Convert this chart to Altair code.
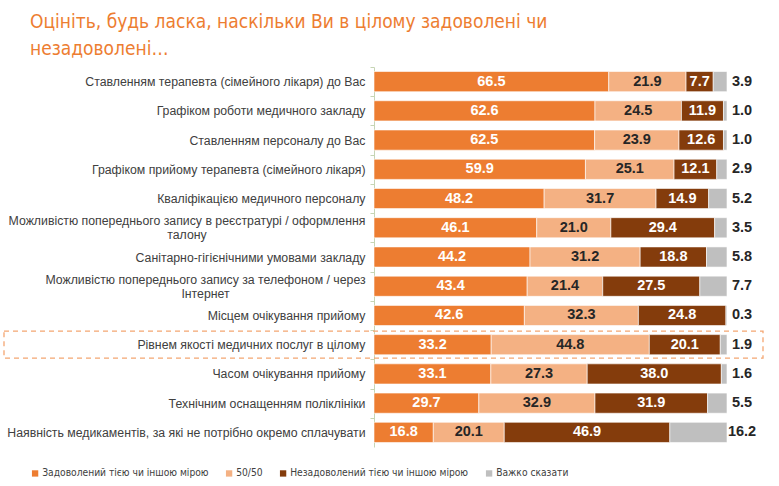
import altair as alt
import pandas as pd

# Survey items (top to bottom); "|" marks a line break in the axis label
categories = [
    "Ставленням терапевта (сімейного лікаря) до Вас",
    "Графіком роботи медичного закладу",
    "Ставленням персоналу до Вас",
    "Графіком прийому терапевта (сімейного лікаря)",
    "Кваліфікацією медичного персоналу",
    "Можливістю попереднього запису в реєстратурі / оформлення|талону",
    "Санітарно-гігієнічними умовами закладу",
    "Можливістю попереднього запису за телефоном / через|Інтернет",
    "Місцем очікування прийому",
    "Рівнем якості медичних послуг в цілому",
    "Часом очікування прийому",
    "Технічним оснащенням поліклініки",
    "Наявність медикаментів, за які не потрібно окремо сплачувати",
]

satisfied = [66.5, 62.6, 62.5, 59.9, 48.2, 46.1, 44.2, 43.4, 42.6, 33.2, 33.1, 29.7, 16.8]
neutral = [21.9, 24.5, 23.9, 25.1, 31.7, 21.0, 31.2, 21.4, 32.3, 44.8, 27.3, 32.9, 20.1]
dissatisfied = [7.7, 11.9, 12.6, 12.1, 14.9, 29.4, 18.8, 27.5, 24.8, 20.1, 38.0, 31.9, 46.9]
hard_to_say = [3.9, 1.0, 1.0, 2.9, 5.2, 3.5, 5.8, 7.7, 0.3, 1.9, 1.6, 5.5, 16.2]

series = ["Задоволений тією чи іншою мірою", "50/50",
          "Незадоволений тією чи іншою мірою", "Важко сказати"]
colors = ["#ED7D31", "#F4B183", "#843C0C", "#BFBFBF"]
label_colors = ["#FFFFFF", "#262626", "#FFFFFF", "#262626"]

highlighted = ["Рівнем якості медичних послуг в цілому"]

title_lines = ["Оцініть, будь ласка, наскільки Ви в цілому задоволені чи",
               "незадоволені…"]

NARROW = "Noto Sans Condensed, DejaVu Sans Condensed, Liberation Sans"

rows = []
for i, cat in enumerate(categories):
    vals = [satisfied[i], neutral[i], dissatisfied[i], hard_to_say[i]]
    start = 0.0
    for k, v in enumerate(vals):
        rows.append({
            "cat": cat, "series": series[k], "k": k, "value": v,
            "x0": start, "x1": start + v, "mid": start + v / 2,
            "txt": f"{v:.1f}", "tcolor": label_colors[k],
        })
        start += v
df = pd.DataFrame(rows)

hl_df = pd.DataFrame({"cat": [c for c in categories if c in highlighted]})

# Wrapped labels: centred block, its first line ending where the others do
wrapped = [c for c in categories if "|" in c]
multi_test = "indexof(datum.value, '|') >= 0"
label_align = {"condition": {"test": multi_test, "value": "center"}, "value": "right"}
label_offset = {"condition": {"test": multi_test, "value": 7.8}, "value": 14.6}
label_padding = {
    "condition": [
        {"test": f"datum.value == '{wrapped[0]}'", "value": 183.5},
        {"test": f"datum.value == '{wrapped[1]}'", "value": 165},
    ],
    "value": 5,
}

y_scale = alt.Scale(domain=categories, paddingInner=0.31, paddingOuter=0.155)
y_enc = alt.Y("cat:N", scale=y_scale, sort=categories, title=None,
              axis=alt.Axis(labelFont="Liberation Sans", labelFontSize=12.3,
                            labelColor="#404040", labelLimit=400,
                            labelExpr="split(datum.label, '|')",
                            labelAlign=label_align,
                            labelPadding=label_padding,
                            labelOffset=label_offset,
                            tickSize=4, tickOffset=-14.6,
                            domainColor="#C6D5B4", tickColor="#C6D5B4",
                            labelLineHeight=14))

bars = alt.Chart(df).mark_bar(stroke="white", strokeWidth=0.6).encode(
    y=y_enc,
    x=alt.X("x0:Q", scale=alt.Scale(domain=[0, 100], nice=False), axis=None),
    x2="x1:Q",
    color=alt.Color("series:N",
                    scale=alt.Scale(domain=series, range=colors),
                    legend=alt.Legend(title=None, orient="none",
                                      legendX=-344, legendY=401,
                                      direction="horizontal",
                                      symbolType="square", symbolSize=40,
                                      symbolStrokeWidth=0,
                                      labelFont=NARROW, labelLimit=300,
                                      labelFontSize=10.2, labelColor="#404040",
                                      labelOffset=2, columnPadding=15)),
    order=alt.Order("k:Q"),
)

inside = alt.Chart(df).transform_filter("datum.k < 3").mark_text(
    font="Liberation Sans", fontSize=14.5, fontWeight="bold"
).encode(
    y=alt.Y("cat:N", scale=y_scale, sort=categories),
    x=alt.X("mid:Q"),
    text="txt:N",
    color=alt.Color("tcolor:N", scale=None),
)

outside = alt.Chart(df).transform_filter("datum.k == 3").mark_text(
    font="Liberation Sans", fontSize=14.5, fontWeight="bold",
    color="#262626", dx=15
).encode(
    y=alt.Y("cat:N", scale=y_scale, sort=categories),
    x=alt.X("x1:Q"),
    text="txt:N",
)

box = alt.Chart(hl_df).mark_bar(
    size=27, fill="transparent", stroke="#F4A672",
    strokeWidth=1.3, strokeDash=[5, 4]
).encode(
    y=alt.Y("cat:N", scale=y_scale, sort=categories),
    x=alt.value(-370),
    x2=alt.value(389),
)

chart = alt.layer(bars, inside, outside, box).properties(
    width=353, height=380,
    autosize=alt.AutoSizeParams(type="none"),
    padding={"left": 374, "top": 67, "right": 52, "bottom": 39},
    title=alt.TitleParams(
        text=title_lines, anchor="start", frame="group",
        font=NARROW, fontSize=19, fontWeight="normal",
        color="#ED7D31", dx=-344, offset=8, lineHeight=27,
    ),
).configure_view(stroke=None).resolve_scale(color="independent")

chart.save("out.html", embed_options={"renderer": "svg", "actions": False})
